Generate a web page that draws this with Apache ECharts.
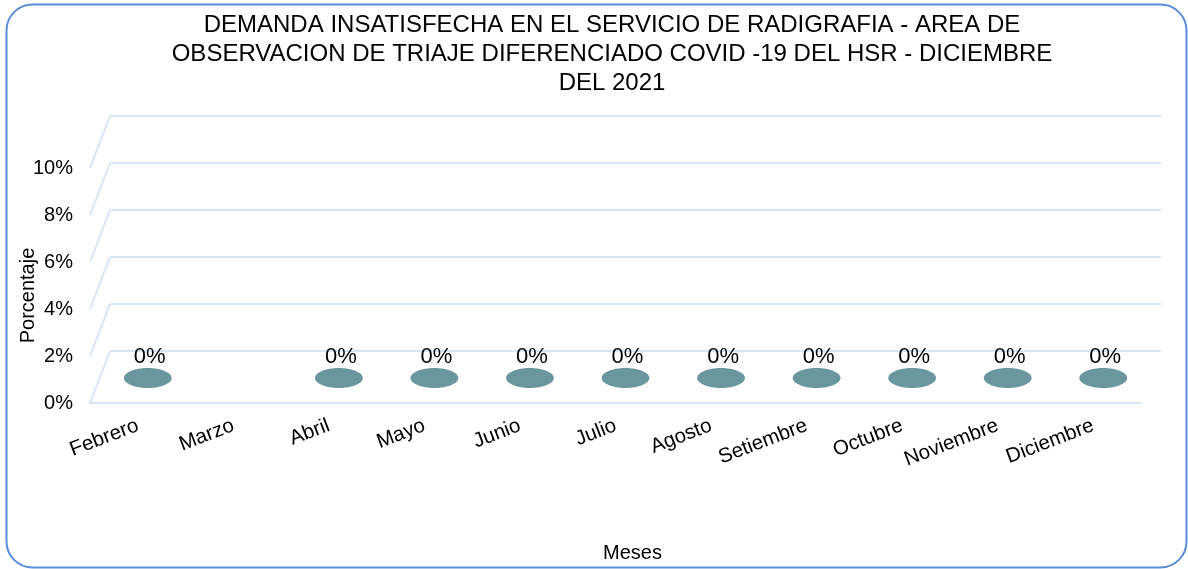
<!DOCTYPE html>
<html>
<head>
<meta charset="utf-8">
<script src="https://cdn.jsdelivr.net/npm/echarts@6/dist/echarts.min.js"></script>
<style>
  html, body { margin: 0; padding: 0; background: #fff; }
  #main { width: 1188px; height: 569px; }
</style>
</head>
<body>
<div id="main"></div>
<script>
// datos del grafico
var meses = ['Febrero', 'Marzo', 'Abril', 'Mayo', 'Junio', 'Julio', 'Agosto', 'Setiembre', 'Octubre', 'Noviembre', 'Diciembre'];
var porcentaje = [0, null, 0, 0, 0, 0, 0, 0, 0, 0, 0]; // Marzo sin dato
var ticksY = [0, 2, 4, 6, 8, 10];
var titulo = 'DEMANDA INSATISFECHA EN EL SERVICIO DE RADIGRAFIA - AREA DE\nOBSERVACION DE TRIAJE DIFERENCIADO COVID -19 DEL HSR - DICIEMBRE\nDEL 2021';

var FUENTE = '"Liberation Sans", Arial, sans-serif';
var GRID_COLOR = '#d9e4f5';
var DISCO = '#6a96a0';
var FONDO_X = 20, FONDO_Y = -52; // profundidad de la pared del fondo

var myChart = echarts.init(document.getElementById('main'), null, { renderer: 'canvas' });

// lineas inclinadas de la pared lateral
function renderLado(params, api) {
    var cs = params.coordSys;
    var y = api.coord([0, api.value(1)])[1];
    return {
        type: 'line',
        shape: { x1: cs.x, y1: y, x2: cs.x + FONDO_X, y2: y + FONDO_Y },
        style: { stroke: GRID_COLOR, lineWidth: 2 }
    };
}

// discos (columnas 3D de altura 0)
function renderDisco(params, api) {
    var v = api.value(1);
    if (v === null || v === undefined || isNaN(v)) return;
    var idx = api.value(0);
    var p0 = api.coord([idx, 0]);
    var pv = api.coord([idx, v]);
    var rx = api.size([1, 0])[0] * 0.25;
    var ry = 10;
    var cx = p0[0] + FONDO_X / 2;
    var cy0 = p0[1] + FONDO_Y / 2 + 1;
    var cyv = pv[1] + FONDO_Y / 2 + 1;
    var hijos = [];
    if (cy0 - cyv > 0.5) {
        hijos.push({ type: 'rect', shape: { x: cx - rx, y: cyv, width: rx * 2, height: cy0 - cyv }, style: { fill: DISCO } });
        hijos.push({ type: 'ellipse', shape: { cx: cx, cy: cy0, rx: rx, ry: ry }, style: { fill: DISCO } });
    }
    hijos.push({ type: 'ellipse', shape: { cx: cx, cy: cyv, rx: rx, ry: ry }, style: { fill: DISCO } });
    hijos.push({
        type: 'text',
        style: {
            text: v + '%', x: cx + 2, y: cyv - 21, align: 'center', verticalAlign: 'middle',
            fill: '#000', fontSize: 22, fontFamily: FUENTE
        }
    });
    return { type: 'group', children: hijos };
}

var option = {
    backgroundColor: '#fff',
    animation: false,
    title: {
        text: titulo,
        left: 607,
        textAlign: 'center',
        top: 6,
        textStyle: { fontFamily: FUENTE, fontSize: 24, fontWeight: 'normal', color: '#000', lineHeight: 29 }
    },
    graphic: [{
        type: 'rect',
        shape: { x: 6.5, y: 4.5, width: 1180, height: 563, r: 26 },
        style: { fill: 'none', stroke: '#5b8ed8', lineWidth: 2 },
        z: 100
    }],
    grid: [
        { left: 90, right: 47, top: 168, bottom: 166, outerBoundsMode: 'none' },   // frente
        { left: 110, right: 27, top: 116, bottom: 218, outerBoundsMode: 'none' }   // fondo
    ],
    xAxis: [{
        type: 'category', gridIndex: 0, data: meses,
        name: 'Meses', nameLocation: 'middle', nameGap: 140, nameMoveOverlap: false,
        nameTextStyle: { fontFamily: FUENTE, fontSize: 20, color: '#000', padding: [0, 0, 0, 34] },
        axisLine: { lineStyle: { color: GRID_COLOR, width: 2 } },
        axisTick: { show: false },
        axisLabel: { rotate: 21, margin: 22, fontFamily: FUENTE, fontSize: 20.5, color: '#000', interval: 0 }
    }, {
        type: 'category', gridIndex: 1, data: meses, show: false
    }],
    yAxis: [{
        type: 'value', gridIndex: 0, min: 0, max: 10, interval: 2,
        name: 'Porcentaje', nameLocation: 'middle', nameGap: 52, nameMoveOverlap: false,
        nameTextStyle: { fontFamily: FUENTE, fontSize: 20, color: '#000', padding: [0, 20, 0, 0] },
        axisLine: { show: false }, axisTick: { show: false },
        splitLine: { show: false },
        axisLabel: { formatter: '{value}%', margin: 17, fontFamily: FUENTE, fontSize: 20, color: '#000' }
    }, {
        type: 'value', gridIndex: 1, min: 0, max: 10, interval: 2,
        axisLine: { show: false }, axisTick: { show: false }, axisLabel: { show: false },
        splitLine: { lineStyle: { color: GRID_COLOR, width: 2 } }
    }],
    series: [{
        type: 'custom', name: 'lado', xAxisIndex: 0, yAxisIndex: 0,
        renderItem: renderLado,
        data: ticksY.map(function (t) { return [0, t]; }),
        silent: true, z: 1
    }, {
        type: 'custom', name: 'Porcentaje', xAxisIndex: 0, yAxisIndex: 0,
        renderItem: renderDisco,
        data: porcentaje.map(function (v, i) { return [i, v]; }),
        z: 5
    }]
};

if (option && typeof option === "object") {
    myChart.setOption(option, true);
}
</script>
</body>
</html>
